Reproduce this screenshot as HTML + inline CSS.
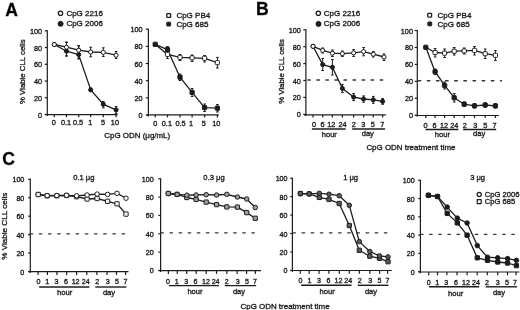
<!DOCTYPE html>
<html><head><meta charset="utf-8"><title>Figure</title>
<style>
html,body{margin:0;padding:0;background:#fff;}
body{width:520px;height:310px;overflow:hidden;}
svg{display:block;font-family:"Liberation Sans", sans-serif;filter:grayscale(1) blur(0.3px);}
text{stroke:#1c1c1c;stroke-width:0.34px;}
</style></head><body>
<svg width="520" height="310" viewBox="0 0 520 310">
<rect width="520" height="310" fill="#fff"/>
<text x="5.30" y="15.80" font-size="17.6" text-anchor="start" font-weight="bold" fill="#000" >A</text>
<text x="255.90" y="14.70" font-size="17.6" text-anchor="start" font-weight="bold" fill="#000" >B</text>
<text x="2.20" y="165.20" font-size="17.6" text-anchor="start" font-weight="bold" fill="#000" >C</text>
<line x1="47.30" y1="30.30" x2="47.30" y2="116.10" stroke="#1c1c1c" stroke-width="1.2" />
<line x1="44.70" y1="30.80" x2="47.30" y2="30.80" stroke="#1c1c1c" stroke-width="1.2" />
<text x="42.10" y="33.80" font-size="7.3" text-anchor="end" font-weight="normal" fill="#1c1c1c" >100</text>
<line x1="44.70" y1="47.54" x2="47.30" y2="47.54" stroke="#1c1c1c" stroke-width="1.2" />
<text x="42.10" y="50.54" font-size="7.3" text-anchor="end" font-weight="normal" fill="#1c1c1c" >80</text>
<line x1="44.70" y1="64.28" x2="47.30" y2="64.28" stroke="#1c1c1c" stroke-width="1.2" />
<text x="42.10" y="67.28" font-size="7.3" text-anchor="end" font-weight="normal" fill="#1c1c1c" >60</text>
<line x1="44.70" y1="81.02" x2="47.30" y2="81.02" stroke="#1c1c1c" stroke-width="1.2" />
<text x="42.10" y="84.02" font-size="7.3" text-anchor="end" font-weight="normal" fill="#1c1c1c" >40</text>
<line x1="44.70" y1="97.76" x2="47.30" y2="97.76" stroke="#1c1c1c" stroke-width="1.2" />
<text x="42.10" y="100.76" font-size="7.3" text-anchor="end" font-weight="normal" fill="#1c1c1c" >20</text>
<line x1="44.70" y1="114.50" x2="47.30" y2="114.50" stroke="#1c1c1c" stroke-width="1.2" />
<text x="42.10" y="117.50" font-size="7.3" text-anchor="end" font-weight="normal" fill="#1c1c1c" >0</text>
<line x1="45.30" y1="114.60" x2="117.60" y2="114.60" stroke="#1c1c1c" stroke-width="1.2" />
<line x1="54.30" y1="114.60" x2="54.30" y2="117.20" stroke="#1c1c1c" stroke-width="1.2" />
<line x1="66.50" y1="114.60" x2="66.50" y2="117.20" stroke="#1c1c1c" stroke-width="1.2" />
<line x1="78.70" y1="114.60" x2="78.70" y2="117.20" stroke="#1c1c1c" stroke-width="1.2" />
<line x1="90.70" y1="114.60" x2="90.70" y2="117.20" stroke="#1c1c1c" stroke-width="1.2" />
<line x1="103.30" y1="114.60" x2="103.30" y2="117.20" stroke="#1c1c1c" stroke-width="1.2" />
<line x1="116.10" y1="114.60" x2="116.10" y2="117.20" stroke="#1c1c1c" stroke-width="1.2" />
<text x="53.80" y="125.30" font-size="7.3" text-anchor="middle" font-weight="normal" fill="#1c1c1c" >0</text>
<text x="66.00" y="125.30" font-size="7.3" text-anchor="middle" font-weight="normal" fill="#1c1c1c" >0.1</text>
<text x="78.10" y="125.30" font-size="7.3" text-anchor="middle" font-weight="normal" fill="#1c1c1c" >0.5</text>
<text x="90.20" y="125.30" font-size="7.3" text-anchor="middle" font-weight="normal" fill="#1c1c1c" >1</text>
<text x="103.10" y="125.30" font-size="7.3" text-anchor="middle" font-weight="normal" fill="#1c1c1c" >5</text>
<text x="114.90" y="125.30" font-size="7.3" text-anchor="middle" font-weight="normal" fill="#1c1c1c" >10</text>
<text x="0" y="0" font-size="7.8" text-anchor="middle" fill="#1c1c1c" transform="translate(25.00,71.70) rotate(-90)">% Viable CLL cells</text>
<line x1="66.50" y1="42.20" x2="66.50" y2="56.00" stroke="#1c1c1c" stroke-width="1.0" />
<line x1="65.20" y1="42.20" x2="67.80" y2="42.20" stroke="#1c1c1c" stroke-width="1.0" />
<line x1="65.20" y1="56.00" x2="67.80" y2="56.00" stroke="#1c1c1c" stroke-width="1.0" />
<line x1="78.70" y1="45.70" x2="78.70" y2="58.80" stroke="#1c1c1c" stroke-width="1.0" />
<line x1="77.40" y1="45.70" x2="80.00" y2="45.70" stroke="#1c1c1c" stroke-width="1.0" />
<line x1="77.40" y1="58.80" x2="80.00" y2="58.80" stroke="#1c1c1c" stroke-width="1.0" />
<line x1="90.70" y1="47.20" x2="90.70" y2="56.80" stroke="#1c1c1c" stroke-width="1.0" />
<line x1="89.40" y1="47.20" x2="92.00" y2="47.20" stroke="#1c1c1c" stroke-width="1.0" />
<line x1="89.40" y1="56.80" x2="92.00" y2="56.80" stroke="#1c1c1c" stroke-width="1.0" />
<line x1="103.30" y1="47.80" x2="103.30" y2="56.50" stroke="#1c1c1c" stroke-width="1.0" />
<line x1="102.00" y1="47.80" x2="104.60" y2="47.80" stroke="#1c1c1c" stroke-width="1.0" />
<line x1="102.00" y1="56.50" x2="104.60" y2="56.50" stroke="#1c1c1c" stroke-width="1.0" />
<line x1="116.10" y1="51.50" x2="116.10" y2="58.50" stroke="#1c1c1c" stroke-width="1.0" />
<line x1="114.80" y1="51.50" x2="117.40" y2="51.50" stroke="#1c1c1c" stroke-width="1.0" />
<line x1="114.80" y1="58.50" x2="117.40" y2="58.50" stroke="#1c1c1c" stroke-width="1.0" />
<line x1="66.50" y1="42.20" x2="66.50" y2="56.00" stroke="#1c1c1c" stroke-width="1.0" />
<line x1="65.20" y1="42.20" x2="67.80" y2="42.20" stroke="#1c1c1c" stroke-width="1.0" />
<line x1="65.20" y1="56.00" x2="67.80" y2="56.00" stroke="#1c1c1c" stroke-width="1.0" />
<line x1="78.70" y1="45.70" x2="78.70" y2="58.80" stroke="#1c1c1c" stroke-width="1.0" />
<line x1="77.40" y1="45.70" x2="80.00" y2="45.70" stroke="#1c1c1c" stroke-width="1.0" />
<line x1="77.40" y1="58.80" x2="80.00" y2="58.80" stroke="#1c1c1c" stroke-width="1.0" />
<line x1="90.70" y1="88.00" x2="90.70" y2="91.50" stroke="#1c1c1c" stroke-width="1.0" />
<line x1="89.40" y1="88.00" x2="92.00" y2="88.00" stroke="#1c1c1c" stroke-width="1.0" />
<line x1="89.40" y1="91.50" x2="92.00" y2="91.50" stroke="#1c1c1c" stroke-width="1.0" />
<line x1="103.30" y1="101.50" x2="103.30" y2="107.80" stroke="#1c1c1c" stroke-width="1.0" />
<line x1="102.00" y1="101.50" x2="104.60" y2="101.50" stroke="#1c1c1c" stroke-width="1.0" />
<line x1="102.00" y1="107.80" x2="104.60" y2="107.80" stroke="#1c1c1c" stroke-width="1.0" />
<line x1="116.10" y1="106.50" x2="116.10" y2="113.60" stroke="#1c1c1c" stroke-width="1.0" />
<line x1="114.80" y1="106.50" x2="117.40" y2="106.50" stroke="#1c1c1c" stroke-width="1.0" />
<line x1="114.80" y1="113.60" x2="117.40" y2="113.60" stroke="#1c1c1c" stroke-width="1.0" />
<polyline points="54.30,44.50 66.50,51.20 78.70,54.60 90.70,89.90 103.30,104.30 116.10,109.90" fill="none" stroke="#1c1c1c" stroke-width="1.3" stroke-linejoin="round"/>
<polyline points="54.30,44.50 66.50,47.20 78.70,50.20 90.70,52.00 103.30,52.40 116.10,55.20" fill="none" stroke="#1c1c1c" stroke-width="1.3" stroke-linejoin="round"/>
<circle cx="54.30" cy="44.50" r="2.05" fill="#1c1c1c" stroke="#1c1c1c" stroke-width="1.0"/>
<circle cx="66.50" cy="51.20" r="2.05" fill="#1c1c1c" stroke="#1c1c1c" stroke-width="1.0"/>
<circle cx="78.70" cy="54.60" r="2.05" fill="#1c1c1c" stroke="#1c1c1c" stroke-width="1.0"/>
<circle cx="90.70" cy="89.90" r="2.05" fill="#1c1c1c" stroke="#1c1c1c" stroke-width="1.0"/>
<circle cx="103.30" cy="104.30" r="2.05" fill="#1c1c1c" stroke="#1c1c1c" stroke-width="1.0"/>
<circle cx="116.10" cy="109.90" r="2.05" fill="#1c1c1c" stroke="#1c1c1c" stroke-width="1.0"/>
<circle cx="54.30" cy="44.50" r="2.05" fill="#fff" stroke="#1c1c1c" stroke-width="1.0"/>
<circle cx="66.50" cy="47.20" r="2.05" fill="#fff" stroke="#1c1c1c" stroke-width="1.0"/>
<circle cx="78.70" cy="50.20" r="2.05" fill="#fff" stroke="#1c1c1c" stroke-width="1.0"/>
<circle cx="90.70" cy="52.00" r="2.05" fill="#fff" stroke="#1c1c1c" stroke-width="1.0"/>
<circle cx="103.30" cy="52.40" r="2.05" fill="#fff" stroke="#1c1c1c" stroke-width="1.0"/>
<circle cx="116.10" cy="55.20" r="2.05" fill="#fff" stroke="#1c1c1c" stroke-width="1.0"/>
<circle cx="60.50" cy="13.20" r="2.2" fill="#fff" stroke="#1c1c1c" stroke-width="1.25"/>
<text x="66.40" y="15.90" font-size="8.0" text-anchor="start" font-weight="normal" fill="#1c1c1c" >CpG 2216</text>
<circle cx="60.60" cy="23.80" r="2.5" fill="#1c1c1c" stroke="#1c1c1c" stroke-width="1.0"/>
<text x="66.40" y="26.30" font-size="8.0" text-anchor="start" font-weight="normal" fill="#1c1c1c" >CpG 2006</text>
<text x="104.30" y="138.20" font-size="7.95" text-anchor="start" font-weight="normal" fill="#1c1c1c" >CpG ODN (&#956;g/mL)</text>
<line x1="148.40" y1="28.70" x2="148.40" y2="116.60" stroke="#1c1c1c" stroke-width="1.2" />
<line x1="145.80" y1="29.20" x2="148.40" y2="29.20" stroke="#1c1c1c" stroke-width="1.2" />
<text x="142.60" y="32.20" font-size="7.3" text-anchor="end" font-weight="normal" fill="#1c1c1c" >100</text>
<line x1="145.80" y1="46.36" x2="148.40" y2="46.36" stroke="#1c1c1c" stroke-width="1.2" />
<text x="142.60" y="49.36" font-size="7.3" text-anchor="end" font-weight="normal" fill="#1c1c1c" >80</text>
<line x1="145.80" y1="63.52" x2="148.40" y2="63.52" stroke="#1c1c1c" stroke-width="1.2" />
<text x="142.60" y="66.52" font-size="7.3" text-anchor="end" font-weight="normal" fill="#1c1c1c" >60</text>
<line x1="145.80" y1="80.68" x2="148.40" y2="80.68" stroke="#1c1c1c" stroke-width="1.2" />
<text x="142.60" y="83.68" font-size="7.3" text-anchor="end" font-weight="normal" fill="#1c1c1c" >40</text>
<line x1="145.80" y1="97.84" x2="148.40" y2="97.84" stroke="#1c1c1c" stroke-width="1.2" />
<text x="142.60" y="100.84" font-size="7.3" text-anchor="end" font-weight="normal" fill="#1c1c1c" >20</text>
<line x1="145.80" y1="115.00" x2="148.40" y2="115.00" stroke="#1c1c1c" stroke-width="1.2" />
<text x="142.60" y="118.00" font-size="7.3" text-anchor="end" font-weight="normal" fill="#1c1c1c" >0</text>
<line x1="146.40" y1="114.80" x2="218.80" y2="114.80" stroke="#1c1c1c" stroke-width="1.2" />
<line x1="155.20" y1="114.80" x2="155.20" y2="117.40" stroke="#1c1c1c" stroke-width="1.2" />
<line x1="167.50" y1="114.80" x2="167.50" y2="117.40" stroke="#1c1c1c" stroke-width="1.2" />
<line x1="180.00" y1="114.80" x2="180.00" y2="117.40" stroke="#1c1c1c" stroke-width="1.2" />
<line x1="192.10" y1="114.80" x2="192.10" y2="117.40" stroke="#1c1c1c" stroke-width="1.2" />
<line x1="204.60" y1="114.80" x2="204.60" y2="117.40" stroke="#1c1c1c" stroke-width="1.2" />
<line x1="217.40" y1="114.80" x2="217.40" y2="117.40" stroke="#1c1c1c" stroke-width="1.2" />
<text x="155.20" y="126.40" font-size="7.3" text-anchor="middle" font-weight="normal" fill="#1c1c1c" >0</text>
<text x="166.90" y="126.40" font-size="7.3" text-anchor="middle" font-weight="normal" fill="#1c1c1c" >0.1</text>
<text x="180.50" y="126.40" font-size="7.3" text-anchor="middle" font-weight="normal" fill="#1c1c1c" >0.5</text>
<text x="191.10" y="126.40" font-size="7.3" text-anchor="middle" font-weight="normal" fill="#1c1c1c" >1</text>
<text x="203.80" y="126.40" font-size="7.3" text-anchor="middle" font-weight="normal" fill="#1c1c1c" >5</text>
<text x="216.20" y="126.40" font-size="7.3" text-anchor="middle" font-weight="normal" fill="#1c1c1c" >10</text>
<line x1="167.50" y1="50.50" x2="167.50" y2="58.50" stroke="#1c1c1c" stroke-width="1.0" />
<line x1="166.20" y1="50.50" x2="168.80" y2="50.50" stroke="#1c1c1c" stroke-width="1.0" />
<line x1="166.20" y1="58.50" x2="168.80" y2="58.50" stroke="#1c1c1c" stroke-width="1.0" />
<line x1="180.00" y1="54.50" x2="180.00" y2="60.50" stroke="#1c1c1c" stroke-width="1.0" />
<line x1="178.70" y1="54.50" x2="181.30" y2="54.50" stroke="#1c1c1c" stroke-width="1.0" />
<line x1="178.70" y1="60.50" x2="181.30" y2="60.50" stroke="#1c1c1c" stroke-width="1.0" />
<line x1="192.10" y1="55.00" x2="192.10" y2="61.50" stroke="#1c1c1c" stroke-width="1.0" />
<line x1="190.80" y1="55.00" x2="193.40" y2="55.00" stroke="#1c1c1c" stroke-width="1.0" />
<line x1="190.80" y1="61.50" x2="193.40" y2="61.50" stroke="#1c1c1c" stroke-width="1.0" />
<line x1="204.60" y1="55.50" x2="204.60" y2="62.00" stroke="#1c1c1c" stroke-width="1.0" />
<line x1="203.30" y1="55.50" x2="205.90" y2="55.50" stroke="#1c1c1c" stroke-width="1.0" />
<line x1="203.30" y1="62.00" x2="205.90" y2="62.00" stroke="#1c1c1c" stroke-width="1.0" />
<line x1="217.40" y1="57.40" x2="217.40" y2="68.00" stroke="#1c1c1c" stroke-width="1.0" />
<line x1="216.10" y1="57.40" x2="218.70" y2="57.40" stroke="#1c1c1c" stroke-width="1.0" />
<line x1="216.10" y1="68.00" x2="218.70" y2="68.00" stroke="#1c1c1c" stroke-width="1.0" />
<line x1="167.50" y1="46.50" x2="167.50" y2="53.00" stroke="#1c1c1c" stroke-width="1.0" />
<line x1="166.20" y1="46.50" x2="168.80" y2="46.50" stroke="#1c1c1c" stroke-width="1.0" />
<line x1="166.20" y1="53.00" x2="168.80" y2="53.00" stroke="#1c1c1c" stroke-width="1.0" />
<line x1="180.00" y1="74.00" x2="180.00" y2="80.50" stroke="#1c1c1c" stroke-width="1.0" />
<line x1="178.70" y1="74.00" x2="181.30" y2="74.00" stroke="#1c1c1c" stroke-width="1.0" />
<line x1="178.70" y1="80.50" x2="181.30" y2="80.50" stroke="#1c1c1c" stroke-width="1.0" />
<line x1="192.10" y1="88.50" x2="192.10" y2="96.50" stroke="#1c1c1c" stroke-width="1.0" />
<line x1="190.80" y1="88.50" x2="193.40" y2="88.50" stroke="#1c1c1c" stroke-width="1.0" />
<line x1="190.80" y1="96.50" x2="193.40" y2="96.50" stroke="#1c1c1c" stroke-width="1.0" />
<line x1="204.60" y1="104.00" x2="204.60" y2="111.50" stroke="#1c1c1c" stroke-width="1.0" />
<line x1="203.30" y1="104.00" x2="205.90" y2="104.00" stroke="#1c1c1c" stroke-width="1.0" />
<line x1="203.30" y1="111.50" x2="205.90" y2="111.50" stroke="#1c1c1c" stroke-width="1.0" />
<line x1="217.40" y1="104.50" x2="217.40" y2="112.00" stroke="#1c1c1c" stroke-width="1.0" />
<line x1="216.10" y1="104.50" x2="218.70" y2="104.50" stroke="#1c1c1c" stroke-width="1.0" />
<line x1="216.10" y1="112.00" x2="218.70" y2="112.00" stroke="#1c1c1c" stroke-width="1.0" />
<polyline points="155.20,44.30 167.50,49.60 180.00,77.20 192.10,92.40 204.60,107.60 217.40,108.20" fill="none" stroke="#1c1c1c" stroke-width="1.3" stroke-linejoin="round"/>
<polyline points="155.20,44.30 167.50,54.40 180.00,57.30 192.10,57.80 204.60,58.30 217.40,62.60" fill="none" stroke="#1c1c1c" stroke-width="1.3" stroke-linejoin="round"/>
<rect x="153.10" y="42.20" width="4.2" height="4.2" rx="0.5" fill="#1c1c1c" stroke="#1c1c1c" stroke-width="1.0"/>
<rect x="165.40" y="47.50" width="4.2" height="4.2" rx="0.5" fill="#1c1c1c" stroke="#1c1c1c" stroke-width="1.0"/>
<rect x="177.90" y="75.10" width="4.2" height="4.2" rx="0.5" fill="#1c1c1c" stroke="#1c1c1c" stroke-width="1.0"/>
<rect x="190.00" y="90.30" width="4.2" height="4.2" rx="0.5" fill="#1c1c1c" stroke="#1c1c1c" stroke-width="1.0"/>
<rect x="202.50" y="105.50" width="4.2" height="4.2" rx="0.5" fill="#1c1c1c" stroke="#1c1c1c" stroke-width="1.0"/>
<rect x="215.30" y="106.10" width="4.2" height="4.2" rx="0.5" fill="#1c1c1c" stroke="#1c1c1c" stroke-width="1.0"/>
<rect x="165.40" y="52.30" width="4.2" height="4.2" rx="1.0" fill="#fff" stroke="#1c1c1c" stroke-width="1.0"/>
<rect x="177.90" y="55.20" width="4.2" height="4.2" rx="1.0" fill="#fff" stroke="#1c1c1c" stroke-width="1.0"/>
<rect x="190.00" y="55.70" width="4.2" height="4.2" rx="1.0" fill="#fff" stroke="#1c1c1c" stroke-width="1.0"/>
<rect x="202.50" y="56.20" width="4.2" height="4.2" rx="1.0" fill="#fff" stroke="#1c1c1c" stroke-width="1.0"/>
<rect x="215.30" y="60.50" width="4.2" height="4.2" rx="1.0" fill="#fff" stroke="#1c1c1c" stroke-width="1.0"/>
<rect x="166.80" y="13.60" width="3.8" height="3.8" rx="0.5" fill="#fff" stroke="#1c1c1c" stroke-width="1.3"/>
<text x="176.40" y="18.10" font-size="8.0" text-anchor="start" font-weight="normal" fill="#1c1c1c" >CpG PB4</text>
<rect x="166.80" y="22.20" width="3.8" height="3.8" rx="0.5" fill="#1c1c1c" stroke="#1c1c1c" stroke-width="1.0"/>
<text x="176.40" y="27.00" font-size="8.0" text-anchor="start" font-weight="normal" fill="#1c1c1c" >CpG 685</text>
<line x1="305.90" y1="29.30" x2="305.90" y2="115.90" stroke="#1c1c1c" stroke-width="1.2" />
<line x1="303.30" y1="29.80" x2="305.90" y2="29.80" stroke="#1c1c1c" stroke-width="1.2" />
<text x="300.90" y="32.80" font-size="7.3" text-anchor="end" font-weight="normal" fill="#1c1c1c" >100</text>
<line x1="303.30" y1="46.70" x2="305.90" y2="46.70" stroke="#1c1c1c" stroke-width="1.2" />
<text x="300.90" y="49.70" font-size="7.3" text-anchor="end" font-weight="normal" fill="#1c1c1c" >80</text>
<line x1="303.30" y1="63.60" x2="305.90" y2="63.60" stroke="#1c1c1c" stroke-width="1.2" />
<text x="300.90" y="66.60" font-size="7.3" text-anchor="end" font-weight="normal" fill="#1c1c1c" >60</text>
<line x1="303.30" y1="80.50" x2="305.90" y2="80.50" stroke="#1c1c1c" stroke-width="1.2" />
<text x="300.90" y="83.50" font-size="7.3" text-anchor="end" font-weight="normal" fill="#1c1c1c" >40</text>
<line x1="303.30" y1="97.40" x2="305.90" y2="97.40" stroke="#1c1c1c" stroke-width="1.2" />
<text x="300.90" y="100.40" font-size="7.3" text-anchor="end" font-weight="normal" fill="#1c1c1c" >20</text>
<line x1="303.30" y1="114.30" x2="305.90" y2="114.30" stroke="#1c1c1c" stroke-width="1.2" />
<text x="300.90" y="117.30" font-size="7.3" text-anchor="end" font-weight="normal" fill="#1c1c1c" >0</text>
<line x1="303.90" y1="114.90" x2="385.80" y2="114.90" stroke="#1c1c1c" stroke-width="1.2" />
<line x1="313.00" y1="114.90" x2="313.00" y2="117.50" stroke="#1c1c1c" stroke-width="1.2" />
<line x1="322.70" y1="114.90" x2="322.70" y2="117.50" stroke="#1c1c1c" stroke-width="1.2" />
<line x1="332.40" y1="114.90" x2="332.40" y2="117.50" stroke="#1c1c1c" stroke-width="1.2" />
<line x1="342.40" y1="114.90" x2="342.40" y2="117.50" stroke="#1c1c1c" stroke-width="1.2" />
<line x1="353.60" y1="114.90" x2="353.60" y2="117.50" stroke="#1c1c1c" stroke-width="1.2" />
<line x1="363.60" y1="114.90" x2="363.60" y2="117.50" stroke="#1c1c1c" stroke-width="1.2" />
<line x1="373.30" y1="114.90" x2="373.30" y2="117.50" stroke="#1c1c1c" stroke-width="1.2" />
<line x1="382.60" y1="114.90" x2="382.60" y2="117.50" stroke="#1c1c1c" stroke-width="1.2" />
<text x="314.10" y="127.00" font-size="7.3" text-anchor="middle" font-weight="normal" fill="#1c1c1c" >0</text>
<text x="322.60" y="127.00" font-size="7.3" text-anchor="middle" font-weight="normal" fill="#1c1c1c" >6</text>
<text x="331.20" y="127.00" font-size="7.3" text-anchor="middle" font-weight="normal" fill="#1c1c1c" >12</text>
<text x="342.50" y="127.00" font-size="7.3" text-anchor="middle" font-weight="normal" fill="#1c1c1c" >24</text>
<text x="353.90" y="127.00" font-size="7.3" text-anchor="middle" font-weight="normal" fill="#1c1c1c" >2</text>
<text x="363.40" y="127.00" font-size="7.3" text-anchor="middle" font-weight="normal" fill="#1c1c1c" >3</text>
<text x="372.90" y="127.00" font-size="7.3" text-anchor="middle" font-weight="normal" fill="#1c1c1c" >5</text>
<text x="382.30" y="127.00" font-size="7.3" text-anchor="middle" font-weight="normal" fill="#1c1c1c" >7</text>
<line x1="311.90" y1="128.90" x2="345.70" y2="128.90" stroke="#1c1c1c" stroke-width="1.5" />
<line x1="352.20" y1="128.90" x2="385.10" y2="128.90" stroke="#1c1c1c" stroke-width="1.5" />
<text x="329.30" y="137.00" font-size="7.6" text-anchor="middle" font-weight="normal" fill="#1c1c1c" >hour</text>
<text x="367.80" y="136.10" font-size="7.6" text-anchor="middle" font-weight="normal" fill="#1c1c1c" >day</text>
<text x="0" y="0" font-size="7.8" text-anchor="middle" fill="#1c1c1c" transform="translate(283.80,71.50) rotate(-90)">% Viable CLL cells</text>
<line x1="307.81" y1="80.00" x2="384.00" y2="80.00" stroke="#333" stroke-width="1.35" stroke-dasharray="2.49 6.56" stroke-linecap="round"/>
<line x1="322.70" y1="48.00" x2="322.70" y2="53.00" stroke="#1c1c1c" stroke-width="1.0" />
<line x1="321.40" y1="48.00" x2="324.00" y2="48.00" stroke="#1c1c1c" stroke-width="1.0" />
<line x1="321.40" y1="53.00" x2="324.00" y2="53.00" stroke="#1c1c1c" stroke-width="1.0" />
<line x1="332.40" y1="50.00" x2="332.40" y2="56.50" stroke="#1c1c1c" stroke-width="1.0" />
<line x1="331.10" y1="50.00" x2="333.70" y2="50.00" stroke="#1c1c1c" stroke-width="1.0" />
<line x1="331.10" y1="56.50" x2="333.70" y2="56.50" stroke="#1c1c1c" stroke-width="1.0" />
<line x1="342.40" y1="51.00" x2="342.40" y2="56.50" stroke="#1c1c1c" stroke-width="1.0" />
<line x1="341.10" y1="51.00" x2="343.70" y2="51.00" stroke="#1c1c1c" stroke-width="1.0" />
<line x1="341.10" y1="56.50" x2="343.70" y2="56.50" stroke="#1c1c1c" stroke-width="1.0" />
<line x1="353.60" y1="49.50" x2="353.60" y2="56.50" stroke="#1c1c1c" stroke-width="1.0" />
<line x1="352.30" y1="49.50" x2="354.90" y2="49.50" stroke="#1c1c1c" stroke-width="1.0" />
<line x1="352.30" y1="56.50" x2="354.90" y2="56.50" stroke="#1c1c1c" stroke-width="1.0" />
<line x1="363.60" y1="47.50" x2="363.60" y2="55.80" stroke="#1c1c1c" stroke-width="1.0" />
<line x1="362.30" y1="47.50" x2="364.90" y2="47.50" stroke="#1c1c1c" stroke-width="1.0" />
<line x1="362.30" y1="55.80" x2="364.90" y2="55.80" stroke="#1c1c1c" stroke-width="1.0" />
<line x1="373.30" y1="51.50" x2="373.30" y2="57.00" stroke="#1c1c1c" stroke-width="1.0" />
<line x1="372.00" y1="51.50" x2="374.60" y2="51.50" stroke="#1c1c1c" stroke-width="1.0" />
<line x1="372.00" y1="57.00" x2="374.60" y2="57.00" stroke="#1c1c1c" stroke-width="1.0" />
<line x1="384.00" y1="54.00" x2="384.00" y2="60.50" stroke="#1c1c1c" stroke-width="1.0" />
<line x1="382.70" y1="54.00" x2="385.30" y2="54.00" stroke="#1c1c1c" stroke-width="1.0" />
<line x1="382.70" y1="60.50" x2="385.30" y2="60.50" stroke="#1c1c1c" stroke-width="1.0" />
<line x1="322.70" y1="58.50" x2="322.70" y2="70.50" stroke="#1c1c1c" stroke-width="1.0" />
<line x1="321.40" y1="58.50" x2="324.00" y2="58.50" stroke="#1c1c1c" stroke-width="1.0" />
<line x1="321.40" y1="70.50" x2="324.00" y2="70.50" stroke="#1c1c1c" stroke-width="1.0" />
<line x1="332.40" y1="59.50" x2="332.40" y2="75.00" stroke="#1c1c1c" stroke-width="1.0" />
<line x1="331.10" y1="59.50" x2="333.70" y2="59.50" stroke="#1c1c1c" stroke-width="1.0" />
<line x1="331.10" y1="75.00" x2="333.70" y2="75.00" stroke="#1c1c1c" stroke-width="1.0" />
<line x1="342.40" y1="84.40" x2="342.40" y2="92.50" stroke="#1c1c1c" stroke-width="1.0" />
<line x1="341.10" y1="84.40" x2="343.70" y2="84.40" stroke="#1c1c1c" stroke-width="1.0" />
<line x1="341.10" y1="92.50" x2="343.70" y2="92.50" stroke="#1c1c1c" stroke-width="1.0" />
<line x1="353.60" y1="93.50" x2="353.60" y2="100.60" stroke="#1c1c1c" stroke-width="1.0" />
<line x1="352.30" y1="93.50" x2="354.90" y2="93.50" stroke="#1c1c1c" stroke-width="1.0" />
<line x1="352.30" y1="100.60" x2="354.90" y2="100.60" stroke="#1c1c1c" stroke-width="1.0" />
<line x1="363.60" y1="95.90" x2="363.60" y2="102.20" stroke="#1c1c1c" stroke-width="1.0" />
<line x1="362.30" y1="95.90" x2="364.90" y2="95.90" stroke="#1c1c1c" stroke-width="1.0" />
<line x1="362.30" y1="102.20" x2="364.90" y2="102.20" stroke="#1c1c1c" stroke-width="1.0" />
<line x1="373.30" y1="96.40" x2="373.30" y2="103.30" stroke="#1c1c1c" stroke-width="1.0" />
<line x1="372.00" y1="96.40" x2="374.60" y2="96.40" stroke="#1c1c1c" stroke-width="1.0" />
<line x1="372.00" y1="103.30" x2="374.60" y2="103.30" stroke="#1c1c1c" stroke-width="1.0" />
<line x1="382.60" y1="98.50" x2="382.60" y2="104.30" stroke="#1c1c1c" stroke-width="1.0" />
<line x1="381.30" y1="98.50" x2="383.90" y2="98.50" stroke="#1c1c1c" stroke-width="1.0" />
<line x1="381.30" y1="104.30" x2="383.90" y2="104.30" stroke="#1c1c1c" stroke-width="1.0" />
<polyline points="313.00,46.30 322.70,64.60 332.40,67.30 342.40,88.50 353.60,97.10 363.60,99.00 373.30,99.80 382.60,101.40" fill="none" stroke="#1c1c1c" stroke-width="1.3" stroke-linejoin="round"/>
<polyline points="313.00,46.30 322.70,50.40 332.40,53.20 342.40,53.70 353.60,52.90 363.60,51.60 373.30,54.20 384.00,57.00" fill="none" stroke="#1c1c1c" stroke-width="1.3" stroke-linejoin="round"/>
<circle cx="313.00" cy="46.30" r="2.05" fill="#1c1c1c" stroke="#1c1c1c" stroke-width="1.0"/>
<circle cx="322.70" cy="64.60" r="2.05" fill="#1c1c1c" stroke="#1c1c1c" stroke-width="1.0"/>
<circle cx="332.40" cy="67.30" r="2.05" fill="#1c1c1c" stroke="#1c1c1c" stroke-width="1.0"/>
<circle cx="342.40" cy="88.50" r="2.05" fill="#1c1c1c" stroke="#1c1c1c" stroke-width="1.0"/>
<circle cx="353.60" cy="97.10" r="2.05" fill="#1c1c1c" stroke="#1c1c1c" stroke-width="1.0"/>
<circle cx="363.60" cy="99.00" r="2.05" fill="#1c1c1c" stroke="#1c1c1c" stroke-width="1.0"/>
<circle cx="373.30" cy="99.80" r="2.05" fill="#1c1c1c" stroke="#1c1c1c" stroke-width="1.0"/>
<circle cx="382.60" cy="101.40" r="2.05" fill="#1c1c1c" stroke="#1c1c1c" stroke-width="1.0"/>
<circle cx="313.00" cy="46.30" r="2.05" fill="#fff" stroke="#1c1c1c" stroke-width="1.0"/>
<circle cx="322.70" cy="50.40" r="2.05" fill="#fff" stroke="#1c1c1c" stroke-width="1.0"/>
<circle cx="332.40" cy="53.20" r="2.05" fill="#fff" stroke="#1c1c1c" stroke-width="1.0"/>
<circle cx="342.40" cy="53.70" r="2.05" fill="#fff" stroke="#1c1c1c" stroke-width="1.0"/>
<circle cx="353.60" cy="52.90" r="2.05" fill="#fff" stroke="#1c1c1c" stroke-width="1.0"/>
<circle cx="363.60" cy="51.60" r="2.05" fill="#fff" stroke="#1c1c1c" stroke-width="1.0"/>
<circle cx="373.30" cy="54.20" r="2.05" fill="#fff" stroke="#1c1c1c" stroke-width="1.0"/>
<circle cx="384.00" cy="57.00" r="2.05" fill="#fff" stroke="#1c1c1c" stroke-width="1.0"/>
<circle cx="318.30" cy="13.20" r="2.2" fill="#fff" stroke="#1c1c1c" stroke-width="1.25"/>
<text x="323.80" y="15.90" font-size="8.0" text-anchor="start" font-weight="normal" fill="#1c1c1c" >CpG 2216</text>
<circle cx="318.50" cy="23.90" r="2.5" fill="#1c1c1c" stroke="#1c1c1c" stroke-width="1.0"/>
<text x="323.80" y="26.30" font-size="8.0" text-anchor="start" font-weight="normal" fill="#1c1c1c" >CpG 2006</text>
<text x="366.40" y="150.10" font-size="7.95" text-anchor="start" font-weight="normal" fill="#1c1c1c" >CpG ODN treatment time</text>
<line x1="417.30" y1="30.00" x2="417.30" y2="116.80" stroke="#1c1c1c" stroke-width="1.2" />
<line x1="414.70" y1="30.50" x2="417.30" y2="30.50" stroke="#1c1c1c" stroke-width="1.2" />
<text x="413.00" y="33.50" font-size="7.3" text-anchor="end" font-weight="normal" fill="#1c1c1c" >100</text>
<line x1="414.70" y1="47.44" x2="417.30" y2="47.44" stroke="#1c1c1c" stroke-width="1.2" />
<text x="413.00" y="50.44" font-size="7.3" text-anchor="end" font-weight="normal" fill="#1c1c1c" >80</text>
<line x1="414.70" y1="64.38" x2="417.30" y2="64.38" stroke="#1c1c1c" stroke-width="1.2" />
<text x="413.00" y="67.38" font-size="7.3" text-anchor="end" font-weight="normal" fill="#1c1c1c" >60</text>
<line x1="414.70" y1="81.32" x2="417.30" y2="81.32" stroke="#1c1c1c" stroke-width="1.2" />
<text x="413.00" y="84.32" font-size="7.3" text-anchor="end" font-weight="normal" fill="#1c1c1c" >40</text>
<line x1="414.70" y1="98.26" x2="417.30" y2="98.26" stroke="#1c1c1c" stroke-width="1.2" />
<text x="413.00" y="101.26" font-size="7.3" text-anchor="end" font-weight="normal" fill="#1c1c1c" >20</text>
<line x1="414.70" y1="115.20" x2="417.30" y2="115.20" stroke="#1c1c1c" stroke-width="1.2" />
<text x="413.00" y="118.20" font-size="7.3" text-anchor="end" font-weight="normal" fill="#1c1c1c" >0</text>
<line x1="415.30" y1="115.50" x2="499.00" y2="115.50" stroke="#1c1c1c" stroke-width="1.2" />
<line x1="425.80" y1="115.50" x2="425.80" y2="118.10" stroke="#1c1c1c" stroke-width="1.2" />
<line x1="435.10" y1="115.50" x2="435.10" y2="118.10" stroke="#1c1c1c" stroke-width="1.2" />
<line x1="444.60" y1="115.50" x2="444.60" y2="118.10" stroke="#1c1c1c" stroke-width="1.2" />
<line x1="454.20" y1="115.50" x2="454.20" y2="118.10" stroke="#1c1c1c" stroke-width="1.2" />
<line x1="464.20" y1="115.50" x2="464.20" y2="118.10" stroke="#1c1c1c" stroke-width="1.2" />
<line x1="474.50" y1="115.50" x2="474.50" y2="118.10" stroke="#1c1c1c" stroke-width="1.2" />
<line x1="485.20" y1="115.50" x2="485.20" y2="118.10" stroke="#1c1c1c" stroke-width="1.2" />
<line x1="495.40" y1="115.50" x2="495.40" y2="118.10" stroke="#1c1c1c" stroke-width="1.2" />
<text x="425.50" y="127.90" font-size="7.3" text-anchor="middle" font-weight="normal" fill="#1c1c1c" >0</text>
<text x="434.60" y="127.90" font-size="7.3" text-anchor="middle" font-weight="normal" fill="#1c1c1c" >6</text>
<text x="444.10" y="127.90" font-size="7.3" text-anchor="middle" font-weight="normal" fill="#1c1c1c" >12</text>
<text x="454.30" y="127.90" font-size="7.3" text-anchor="middle" font-weight="normal" fill="#1c1c1c" >24</text>
<text x="464.80" y="127.90" font-size="7.3" text-anchor="middle" font-weight="normal" fill="#1c1c1c" >2</text>
<text x="475.20" y="127.90" font-size="7.3" text-anchor="middle" font-weight="normal" fill="#1c1c1c" >3</text>
<text x="485.20" y="127.90" font-size="7.3" text-anchor="middle" font-weight="normal" fill="#1c1c1c" >5</text>
<text x="494.60" y="127.90" font-size="7.3" text-anchor="middle" font-weight="normal" fill="#1c1c1c" >7</text>
<line x1="425.50" y1="129.60" x2="458.30" y2="129.60" stroke="#1c1c1c" stroke-width="1.5" />
<line x1="463.20" y1="129.60" x2="496.20" y2="129.60" stroke="#1c1c1c" stroke-width="1.5" />
<text x="442.40" y="137.20" font-size="7.6" text-anchor="middle" font-weight="normal" fill="#1c1c1c" >hour</text>
<text x="479.10" y="136.00" font-size="7.6" text-anchor="middle" font-weight="normal" fill="#1c1c1c" >day</text>
<line x1="418.11" y1="80.70" x2="501.50" y2="80.70" stroke="#333" stroke-width="1.35" stroke-dasharray="2.59 6.56" stroke-linecap="round"/>
<line x1="435.10" y1="48.50" x2="435.10" y2="57.00" stroke="#1c1c1c" stroke-width="1.0" />
<line x1="433.80" y1="48.50" x2="436.40" y2="48.50" stroke="#1c1c1c" stroke-width="1.0" />
<line x1="433.80" y1="57.00" x2="436.40" y2="57.00" stroke="#1c1c1c" stroke-width="1.0" />
<line x1="444.60" y1="49.00" x2="444.60" y2="57.50" stroke="#1c1c1c" stroke-width="1.0" />
<line x1="443.30" y1="49.00" x2="445.90" y2="49.00" stroke="#1c1c1c" stroke-width="1.0" />
<line x1="443.30" y1="57.50" x2="445.90" y2="57.50" stroke="#1c1c1c" stroke-width="1.0" />
<line x1="454.20" y1="47.50" x2="454.20" y2="55.00" stroke="#1c1c1c" stroke-width="1.0" />
<line x1="452.90" y1="47.50" x2="455.50" y2="47.50" stroke="#1c1c1c" stroke-width="1.0" />
<line x1="452.90" y1="55.00" x2="455.50" y2="55.00" stroke="#1c1c1c" stroke-width="1.0" />
<line x1="464.20" y1="48.00" x2="464.20" y2="54.00" stroke="#1c1c1c" stroke-width="1.0" />
<line x1="462.90" y1="48.00" x2="465.50" y2="48.00" stroke="#1c1c1c" stroke-width="1.0" />
<line x1="462.90" y1="54.00" x2="465.50" y2="54.00" stroke="#1c1c1c" stroke-width="1.0" />
<line x1="474.50" y1="46.50" x2="474.50" y2="55.00" stroke="#1c1c1c" stroke-width="1.0" />
<line x1="473.20" y1="46.50" x2="475.80" y2="46.50" stroke="#1c1c1c" stroke-width="1.0" />
<line x1="473.20" y1="55.00" x2="475.80" y2="55.00" stroke="#1c1c1c" stroke-width="1.0" />
<line x1="485.20" y1="49.00" x2="485.20" y2="58.50" stroke="#1c1c1c" stroke-width="1.0" />
<line x1="483.90" y1="49.00" x2="486.50" y2="49.00" stroke="#1c1c1c" stroke-width="1.0" />
<line x1="483.90" y1="58.50" x2="486.50" y2="58.50" stroke="#1c1c1c" stroke-width="1.0" />
<line x1="495.40" y1="50.50" x2="495.40" y2="60.50" stroke="#1c1c1c" stroke-width="1.0" />
<line x1="494.10" y1="50.50" x2="496.70" y2="50.50" stroke="#1c1c1c" stroke-width="1.0" />
<line x1="494.10" y1="60.50" x2="496.70" y2="60.50" stroke="#1c1c1c" stroke-width="1.0" />
<line x1="435.10" y1="69.00" x2="435.10" y2="74.50" stroke="#1c1c1c" stroke-width="1.0" />
<line x1="433.80" y1="69.00" x2="436.40" y2="69.00" stroke="#1c1c1c" stroke-width="1.0" />
<line x1="433.80" y1="74.50" x2="436.40" y2="74.50" stroke="#1c1c1c" stroke-width="1.0" />
<line x1="444.60" y1="82.00" x2="444.60" y2="89.00" stroke="#1c1c1c" stroke-width="1.0" />
<line x1="443.30" y1="82.00" x2="445.90" y2="82.00" stroke="#1c1c1c" stroke-width="1.0" />
<line x1="443.30" y1="89.00" x2="445.90" y2="89.00" stroke="#1c1c1c" stroke-width="1.0" />
<line x1="454.20" y1="93.50" x2="454.20" y2="102.00" stroke="#1c1c1c" stroke-width="1.0" />
<line x1="452.90" y1="93.50" x2="455.50" y2="93.50" stroke="#1c1c1c" stroke-width="1.0" />
<line x1="452.90" y1="102.00" x2="455.50" y2="102.00" stroke="#1c1c1c" stroke-width="1.0" />
<line x1="464.20" y1="102.00" x2="464.20" y2="106.50" stroke="#1c1c1c" stroke-width="1.0" />
<line x1="462.90" y1="102.00" x2="465.50" y2="102.00" stroke="#1c1c1c" stroke-width="1.0" />
<line x1="462.90" y1="106.50" x2="465.50" y2="106.50" stroke="#1c1c1c" stroke-width="1.0" />
<line x1="474.50" y1="103.50" x2="474.50" y2="108.00" stroke="#1c1c1c" stroke-width="1.0" />
<line x1="473.20" y1="103.50" x2="475.80" y2="103.50" stroke="#1c1c1c" stroke-width="1.0" />
<line x1="473.20" y1="108.00" x2="475.80" y2="108.00" stroke="#1c1c1c" stroke-width="1.0" />
<line x1="485.20" y1="103.00" x2="485.20" y2="107.00" stroke="#1c1c1c" stroke-width="1.0" />
<line x1="483.90" y1="103.00" x2="486.50" y2="103.00" stroke="#1c1c1c" stroke-width="1.0" />
<line x1="483.90" y1="107.00" x2="486.50" y2="107.00" stroke="#1c1c1c" stroke-width="1.0" />
<line x1="495.40" y1="103.50" x2="495.40" y2="108.00" stroke="#1c1c1c" stroke-width="1.0" />
<line x1="494.10" y1="103.50" x2="496.70" y2="103.50" stroke="#1c1c1c" stroke-width="1.0" />
<line x1="494.10" y1="108.00" x2="496.70" y2="108.00" stroke="#1c1c1c" stroke-width="1.0" />
<polyline points="425.80,47.30 435.10,71.70 444.60,85.40 454.20,97.70 464.20,104.20 474.50,105.80 485.20,105.00 495.40,105.80" fill="none" stroke="#1c1c1c" stroke-width="1.3" stroke-linejoin="round"/>
<polyline points="425.80,47.30 435.10,52.50 444.60,53.20 454.20,51.20 464.20,50.90 474.50,50.40 485.20,53.70 495.40,55.30" fill="none" stroke="#1c1c1c" stroke-width="1.3" stroke-linejoin="round"/>
<rect x="423.65" y="45.15" width="4.3" height="4.3" rx="0.9" fill="#1c1c1c" stroke="#1c1c1c" stroke-width="1.0"/>
<rect x="432.95" y="69.55" width="4.3" height="4.3" rx="0.9" fill="#1c1c1c" stroke="#1c1c1c" stroke-width="1.0"/>
<rect x="442.45" y="83.25" width="4.3" height="4.3" rx="0.9" fill="#1c1c1c" stroke="#1c1c1c" stroke-width="1.0"/>
<rect x="452.05" y="95.55" width="4.3" height="4.3" rx="0.9" fill="#1c1c1c" stroke="#1c1c1c" stroke-width="1.0"/>
<rect x="462.05" y="102.05" width="4.3" height="4.3" rx="0.9" fill="#1c1c1c" stroke="#1c1c1c" stroke-width="1.0"/>
<rect x="472.35" y="103.65" width="4.3" height="4.3" rx="0.9" fill="#1c1c1c" stroke="#1c1c1c" stroke-width="1.0"/>
<rect x="483.05" y="102.85" width="4.3" height="4.3" rx="0.9" fill="#1c1c1c" stroke="#1c1c1c" stroke-width="1.0"/>
<rect x="493.25" y="103.65" width="4.3" height="4.3" rx="0.9" fill="#1c1c1c" stroke="#1c1c1c" stroke-width="1.0"/>
<rect x="433.00" y="50.40" width="4.2" height="4.2" rx="1.0" fill="#fff" stroke="#1c1c1c" stroke-width="1.0"/>
<rect x="442.50" y="51.10" width="4.2" height="4.2" rx="1.0" fill="#fff" stroke="#1c1c1c" stroke-width="1.0"/>
<rect x="452.10" y="49.10" width="4.2" height="4.2" rx="1.0" fill="#fff" stroke="#1c1c1c" stroke-width="1.0"/>
<rect x="462.10" y="48.80" width="4.2" height="4.2" rx="1.0" fill="#fff" stroke="#1c1c1c" stroke-width="1.0"/>
<rect x="472.40" y="48.30" width="4.2" height="4.2" rx="1.0" fill="#fff" stroke="#1c1c1c" stroke-width="1.0"/>
<rect x="483.10" y="51.60" width="4.2" height="4.2" rx="1.0" fill="#fff" stroke="#1c1c1c" stroke-width="1.0"/>
<rect x="493.30" y="53.20" width="4.2" height="4.2" rx="1.0" fill="#fff" stroke="#1c1c1c" stroke-width="1.0"/>
<rect x="427.80" y="13.30" width="3.8" height="3.8" rx="0.5" fill="#fff" stroke="#1c1c1c" stroke-width="1.3"/>
<text x="437.60" y="18.10" font-size="8.0" text-anchor="start" font-weight="normal" fill="#1c1c1c" >CpG PB4</text>
<rect x="427.90" y="22.00" width="3.8" height="3.8" rx="0.5" fill="#1c1c1c" stroke="#1c1c1c" stroke-width="1.0"/>
<text x="437.60" y="27.00" font-size="8.0" text-anchor="start" font-weight="normal" fill="#1c1c1c" >CpG 685</text>
<line x1="30.30" y1="178.80" x2="30.30" y2="273.10" stroke="#1c1c1c" stroke-width="1.2" />
<line x1="28.10" y1="179.30" x2="30.30" y2="179.30" stroke="#1c1c1c" stroke-width="1.2" />
<text x="24.30" y="182.30" font-size="7.1" text-anchor="end" font-weight="normal" fill="#1c1c1c" >100</text>
<line x1="28.10" y1="197.74" x2="30.30" y2="197.74" stroke="#1c1c1c" stroke-width="1.2" />
<text x="24.30" y="200.74" font-size="7.1" text-anchor="end" font-weight="normal" fill="#1c1c1c" >80</text>
<line x1="28.10" y1="216.18" x2="30.30" y2="216.18" stroke="#1c1c1c" stroke-width="1.2" />
<text x="24.30" y="219.18" font-size="7.1" text-anchor="end" font-weight="normal" fill="#1c1c1c" >60</text>
<line x1="28.10" y1="234.62" x2="30.30" y2="234.62" stroke="#1c1c1c" stroke-width="1.2" />
<text x="24.30" y="237.62" font-size="7.1" text-anchor="end" font-weight="normal" fill="#1c1c1c" >40</text>
<line x1="28.10" y1="253.06" x2="30.30" y2="253.06" stroke="#1c1c1c" stroke-width="1.2" />
<text x="24.30" y="256.06" font-size="7.1" text-anchor="end" font-weight="normal" fill="#1c1c1c" >20</text>
<line x1="28.10" y1="271.50" x2="30.30" y2="271.50" stroke="#1c1c1c" stroke-width="1.2" />
<text x="24.30" y="274.50" font-size="7.1" text-anchor="end" font-weight="normal" fill="#1c1c1c" >0</text>
<line x1="28.30" y1="271.60" x2="128.50" y2="271.60" stroke="#1c1c1c" stroke-width="1.2" />
<line x1="38.10" y1="271.60" x2="38.10" y2="274.90" stroke="#1c1c1c" stroke-width="1.2" />
<line x1="47.40" y1="271.60" x2="47.40" y2="274.90" stroke="#1c1c1c" stroke-width="1.2" />
<line x1="56.90" y1="271.60" x2="56.90" y2="274.90" stroke="#1c1c1c" stroke-width="1.2" />
<line x1="66.70" y1="271.60" x2="66.70" y2="274.90" stroke="#1c1c1c" stroke-width="1.2" />
<line x1="76.60" y1="271.60" x2="76.60" y2="274.90" stroke="#1c1c1c" stroke-width="1.2" />
<line x1="86.80" y1="271.60" x2="86.80" y2="274.90" stroke="#1c1c1c" stroke-width="1.2" />
<line x1="96.90" y1="271.60" x2="96.90" y2="274.90" stroke="#1c1c1c" stroke-width="1.2" />
<line x1="107.00" y1="271.60" x2="107.00" y2="274.90" stroke="#1c1c1c" stroke-width="1.2" />
<line x1="116.50" y1="271.60" x2="116.50" y2="274.90" stroke="#1c1c1c" stroke-width="1.2" />
<line x1="125.60" y1="271.60" x2="125.60" y2="274.90" stroke="#1c1c1c" stroke-width="1.2" />
<text x="38.50" y="284.40" font-size="7.1" text-anchor="middle" font-weight="normal" fill="#1c1c1c" >0</text>
<text x="47.20" y="284.40" font-size="7.1" text-anchor="middle" font-weight="normal" fill="#1c1c1c" >1</text>
<text x="56.40" y="284.40" font-size="7.1" text-anchor="middle" font-weight="normal" fill="#1c1c1c" >3</text>
<text x="66.00" y="284.40" font-size="7.1" text-anchor="middle" font-weight="normal" fill="#1c1c1c" >6</text>
<text x="75.60" y="284.40" font-size="7.1" text-anchor="middle" font-weight="normal" fill="#1c1c1c" >12</text>
<text x="85.70" y="284.40" font-size="7.1" text-anchor="middle" font-weight="normal" fill="#1c1c1c" >24</text>
<text x="97.30" y="284.40" font-size="7.1" text-anchor="middle" font-weight="normal" fill="#1c1c1c" >2</text>
<text x="107.80" y="284.40" font-size="7.1" text-anchor="middle" font-weight="normal" fill="#1c1c1c" >3</text>
<text x="116.90" y="284.40" font-size="7.1" text-anchor="middle" font-weight="normal" fill="#1c1c1c" >5</text>
<text x="125.40" y="284.40" font-size="7.1" text-anchor="middle" font-weight="normal" fill="#1c1c1c" >7</text>
<line x1="39.10" y1="287.00" x2="89.40" y2="287.00" stroke="#1c1c1c" stroke-width="1.4" />
<line x1="95.30" y1="287.00" x2="126.40" y2="287.00" stroke="#1c1c1c" stroke-width="1.4" />
<text x="64.60" y="295.00" font-size="7.6" text-anchor="middle" font-weight="normal" fill="#1c1c1c" >hour</text>
<text x="109.00" y="294.60" font-size="7.6" text-anchor="middle" font-weight="normal" fill="#1c1c1c" >day</text>
<line x1="30.11" y1="233.80" x2="125.20" y2="233.80" stroke="#333" stroke-width="1.35" stroke-dasharray="2.49 6.71" stroke-linecap="round"/>
<polyline points="38.20,194.50 47.20,195.80 56.80,195.70 66.60,195.50 76.60,196.70 87.10,199.00 97.10,198.50 107.60,201.30 117.00,203.80 126.00,214.10" fill="none" stroke="#1c1c1c" stroke-width="1.3" stroke-linejoin="round"/>
<polyline points="38.20,194.50 47.20,195.60 56.80,195.50 66.60,195.30 76.60,195.80 87.10,195.00 97.10,194.10 107.60,194.40 117.00,193.30 126.00,198.20" fill="none" stroke="#1c1c1c" stroke-width="1.3" stroke-linejoin="round"/>
<rect x="45.05" y="193.65" width="4.3" height="4.3" rx="0.4" fill="#f4f4f4" stroke="#1c1c1c" stroke-width="1.0"/>
<rect x="54.65" y="193.55" width="4.3" height="4.3" rx="0.4" fill="#f4f4f4" stroke="#1c1c1c" stroke-width="1.0"/>
<rect x="64.45" y="193.35" width="4.3" height="4.3" rx="0.4" fill="#f4f4f4" stroke="#1c1c1c" stroke-width="1.0"/>
<rect x="74.45" y="194.55" width="4.3" height="4.3" rx="0.4" fill="#f4f4f4" stroke="#1c1c1c" stroke-width="1.0"/>
<rect x="84.95" y="196.85" width="4.3" height="4.3" rx="0.4" fill="#f4f4f4" stroke="#1c1c1c" stroke-width="1.0"/>
<rect x="94.95" y="196.35" width="4.3" height="4.3" rx="0.4" fill="#f4f4f4" stroke="#1c1c1c" stroke-width="1.0"/>
<rect x="105.45" y="199.15" width="4.3" height="4.3" rx="0.4" fill="#f4f4f4" stroke="#1c1c1c" stroke-width="1.0"/>
<rect x="114.85" y="201.65" width="4.3" height="4.3" rx="0.4" fill="#f4f4f4" stroke="#1c1c1c" stroke-width="1.0"/>
<rect x="123.85" y="211.95" width="4.3" height="4.3" rx="0.4" fill="#f4f4f4" stroke="#1c1c1c" stroke-width="1.0"/>
<circle cx="38.20" cy="194.50" r="2.25" fill="#fff" stroke="#1c1c1c" stroke-width="1.0"/>
<circle cx="47.20" cy="195.60" r="2.25" fill="#fff" stroke="#1c1c1c" stroke-width="1.0"/>
<circle cx="56.80" cy="195.50" r="2.25" fill="#fff" stroke="#1c1c1c" stroke-width="1.0"/>
<circle cx="66.60" cy="195.30" r="2.25" fill="#fff" stroke="#1c1c1c" stroke-width="1.0"/>
<circle cx="76.60" cy="195.80" r="2.25" fill="#fff" stroke="#1c1c1c" stroke-width="1.0"/>
<circle cx="87.10" cy="195.00" r="2.25" fill="#fff" stroke="#1c1c1c" stroke-width="1.0"/>
<circle cx="97.10" cy="194.10" r="2.25" fill="#fff" stroke="#1c1c1c" stroke-width="1.0"/>
<circle cx="107.60" cy="194.40" r="2.25" fill="#fff" stroke="#1c1c1c" stroke-width="1.0"/>
<circle cx="117.00" cy="193.30" r="2.25" fill="#fff" stroke="#1c1c1c" stroke-width="1.0"/>
<circle cx="126.00" cy="198.20" r="2.25" fill="#fff" stroke="#1c1c1c" stroke-width="1.0"/>
<rect x="36.05" y="192.35" width="4.3" height="4.3" rx="0.4" fill="#f4f4f4" stroke="#1c1c1c" stroke-width="1.0"/>
<text x="83.80" y="180.20" font-size="7.6" text-anchor="middle" font-weight="normal" fill="#1c1c1c" >0.1 &#956;g</text>
<line x1="160.60" y1="178.30" x2="160.60" y2="272.00" stroke="#1c1c1c" stroke-width="1.2" />
<line x1="158.40" y1="178.80" x2="160.60" y2="178.80" stroke="#1c1c1c" stroke-width="1.2" />
<text x="153.70" y="181.80" font-size="7.1" text-anchor="end" font-weight="normal" fill="#1c1c1c" >100</text>
<line x1="158.40" y1="197.12" x2="160.60" y2="197.12" stroke="#1c1c1c" stroke-width="1.2" />
<text x="153.70" y="200.12" font-size="7.1" text-anchor="end" font-weight="normal" fill="#1c1c1c" >80</text>
<line x1="158.40" y1="215.44" x2="160.60" y2="215.44" stroke="#1c1c1c" stroke-width="1.2" />
<text x="153.70" y="218.44" font-size="7.1" text-anchor="end" font-weight="normal" fill="#1c1c1c" >60</text>
<line x1="158.40" y1="233.76" x2="160.60" y2="233.76" stroke="#1c1c1c" stroke-width="1.2" />
<text x="153.70" y="236.76" font-size="7.1" text-anchor="end" font-weight="normal" fill="#1c1c1c" >40</text>
<line x1="158.40" y1="252.08" x2="160.60" y2="252.08" stroke="#1c1c1c" stroke-width="1.2" />
<text x="153.70" y="255.08" font-size="7.1" text-anchor="end" font-weight="normal" fill="#1c1c1c" >20</text>
<line x1="158.40" y1="270.40" x2="160.60" y2="270.40" stroke="#1c1c1c" stroke-width="1.2" />
<text x="153.70" y="273.40" font-size="7.1" text-anchor="end" font-weight="normal" fill="#1c1c1c" >0</text>
<line x1="158.60" y1="270.60" x2="261.00" y2="270.60" stroke="#1c1c1c" stroke-width="1.2" />
<line x1="168.40" y1="270.60" x2="168.40" y2="273.90" stroke="#1c1c1c" stroke-width="1.2" />
<line x1="177.30" y1="270.60" x2="177.30" y2="273.90" stroke="#1c1c1c" stroke-width="1.2" />
<line x1="186.70" y1="270.60" x2="186.70" y2="273.90" stroke="#1c1c1c" stroke-width="1.2" />
<line x1="196.20" y1="270.60" x2="196.20" y2="273.90" stroke="#1c1c1c" stroke-width="1.2" />
<line x1="206.20" y1="270.60" x2="206.20" y2="273.90" stroke="#1c1c1c" stroke-width="1.2" />
<line x1="216.50" y1="270.60" x2="216.50" y2="273.90" stroke="#1c1c1c" stroke-width="1.2" />
<line x1="226.80" y1="270.60" x2="226.80" y2="273.90" stroke="#1c1c1c" stroke-width="1.2" />
<line x1="237.10" y1="270.60" x2="237.10" y2="273.90" stroke="#1c1c1c" stroke-width="1.2" />
<line x1="246.60" y1="270.60" x2="246.60" y2="273.90" stroke="#1c1c1c" stroke-width="1.2" />
<line x1="255.30" y1="270.60" x2="255.30" y2="273.90" stroke="#1c1c1c" stroke-width="1.2" />
<text x="168.10" y="283.60" font-size="7.1" text-anchor="middle" font-weight="normal" fill="#1c1c1c" >0</text>
<text x="176.80" y="283.60" font-size="7.1" text-anchor="middle" font-weight="normal" fill="#1c1c1c" >1</text>
<text x="186.30" y="283.60" font-size="7.1" text-anchor="middle" font-weight="normal" fill="#1c1c1c" >3</text>
<text x="195.40" y="283.60" font-size="7.1" text-anchor="middle" font-weight="normal" fill="#1c1c1c" >6</text>
<text x="205.90" y="283.60" font-size="7.1" text-anchor="middle" font-weight="normal" fill="#1c1c1c" >12</text>
<text x="215.60" y="283.60" font-size="7.1" text-anchor="middle" font-weight="normal" fill="#1c1c1c" >24</text>
<text x="226.70" y="283.60" font-size="7.1" text-anchor="middle" font-weight="normal" fill="#1c1c1c" >2</text>
<text x="237.80" y="283.60" font-size="7.1" text-anchor="middle" font-weight="normal" fill="#1c1c1c" >3</text>
<text x="246.90" y="283.60" font-size="7.1" text-anchor="middle" font-weight="normal" fill="#1c1c1c" >5</text>
<text x="255.00" y="283.60" font-size="7.1" text-anchor="middle" font-weight="normal" fill="#1c1c1c" >7</text>
<line x1="168.80" y1="285.60" x2="218.90" y2="285.60" stroke="#1c1c1c" stroke-width="1.4" />
<line x1="224.80" y1="285.60" x2="256.10" y2="285.60" stroke="#1c1c1c" stroke-width="1.4" />
<text x="195.00" y="294.00" font-size="7.6" text-anchor="middle" font-weight="normal" fill="#1c1c1c" >hour</text>
<text x="239.00" y="293.60" font-size="7.6" text-anchor="middle" font-weight="normal" fill="#1c1c1c" >day</text>
<line x1="160.91" y1="232.80" x2="255.20" y2="232.80" stroke="#333" stroke-width="1.35" stroke-dasharray="2.49 6.61" stroke-linecap="round"/>
<polyline points="168.30,193.50 177.10,194.40 186.80,197.50 196.10,199.40 206.20,202.10 216.60,204.60 226.80,206.90 237.40,207.10 246.70,212.60 255.30,218.30" fill="none" stroke="#1c1c1c" stroke-width="1.3" stroke-linejoin="round"/>
<polyline points="168.30,193.50 177.10,194.40 186.80,195.20 196.10,195.00 206.20,194.70 216.60,195.00 226.80,194.30 237.40,197.00 246.70,199.00 255.30,207.50" fill="none" stroke="#1c1c1c" stroke-width="1.3" stroke-linejoin="round"/>
<rect x="174.95" y="192.25" width="4.3" height="4.3" rx="0.4" fill="#a0a0a0" stroke="#1c1c1c" stroke-width="1.0"/>
<rect x="184.65" y="195.35" width="4.3" height="4.3" rx="0.4" fill="#a0a0a0" stroke="#1c1c1c" stroke-width="1.0"/>
<rect x="193.95" y="197.25" width="4.3" height="4.3" rx="0.4" fill="#a0a0a0" stroke="#1c1c1c" stroke-width="1.0"/>
<rect x="204.05" y="199.95" width="4.3" height="4.3" rx="0.4" fill="#a0a0a0" stroke="#1c1c1c" stroke-width="1.0"/>
<rect x="214.45" y="202.45" width="4.3" height="4.3" rx="0.4" fill="#a0a0a0" stroke="#1c1c1c" stroke-width="1.0"/>
<rect x="224.65" y="204.75" width="4.3" height="4.3" rx="0.4" fill="#a0a0a0" stroke="#1c1c1c" stroke-width="1.0"/>
<rect x="235.25" y="204.95" width="4.3" height="4.3" rx="0.4" fill="#a0a0a0" stroke="#1c1c1c" stroke-width="1.0"/>
<rect x="244.55" y="210.45" width="4.3" height="4.3" rx="0.4" fill="#a0a0a0" stroke="#1c1c1c" stroke-width="1.0"/>
<rect x="253.15" y="216.15" width="4.3" height="4.3" rx="0.4" fill="#a0a0a0" stroke="#1c1c1c" stroke-width="1.0"/>
<circle cx="168.30" cy="193.50" r="2.25" fill="#a0a0a0" stroke="#1c1c1c" stroke-width="1.0"/>
<circle cx="177.10" cy="194.40" r="2.25" fill="#a0a0a0" stroke="#1c1c1c" stroke-width="1.0"/>
<circle cx="186.80" cy="195.20" r="2.25" fill="#a0a0a0" stroke="#1c1c1c" stroke-width="1.0"/>
<circle cx="196.10" cy="195.00" r="2.25" fill="#a0a0a0" stroke="#1c1c1c" stroke-width="1.0"/>
<circle cx="206.20" cy="194.70" r="2.25" fill="#a0a0a0" stroke="#1c1c1c" stroke-width="1.0"/>
<circle cx="216.60" cy="195.00" r="2.25" fill="#a0a0a0" stroke="#1c1c1c" stroke-width="1.0"/>
<circle cx="226.80" cy="194.30" r="2.25" fill="#a0a0a0" stroke="#1c1c1c" stroke-width="1.0"/>
<circle cx="237.40" cy="197.00" r="2.25" fill="#a0a0a0" stroke="#1c1c1c" stroke-width="1.0"/>
<circle cx="246.70" cy="199.00" r="2.25" fill="#a0a0a0" stroke="#1c1c1c" stroke-width="1.0"/>
<circle cx="255.30" cy="207.50" r="2.25" fill="#a0a0a0" stroke="#1c1c1c" stroke-width="1.0"/>
<rect x="166.15" y="191.35" width="4.3" height="4.3" rx="0.4" fill="#a0a0a0" stroke="#1c1c1c" stroke-width="1.0"/>
<text x="214.00" y="179.90" font-size="7.6" text-anchor="middle" font-weight="normal" fill="#1c1c1c" >0.3 &#956;g</text>
<line x1="292.40" y1="177.70" x2="292.40" y2="272.00" stroke="#1c1c1c" stroke-width="1.2" />
<line x1="290.20" y1="178.20" x2="292.40" y2="178.20" stroke="#1c1c1c" stroke-width="1.2" />
<text x="287.50" y="181.20" font-size="7.1" text-anchor="end" font-weight="normal" fill="#1c1c1c" >100</text>
<line x1="290.20" y1="196.64" x2="292.40" y2="196.64" stroke="#1c1c1c" stroke-width="1.2" />
<text x="287.50" y="199.64" font-size="7.1" text-anchor="end" font-weight="normal" fill="#1c1c1c" >80</text>
<line x1="290.20" y1="215.08" x2="292.40" y2="215.08" stroke="#1c1c1c" stroke-width="1.2" />
<text x="287.50" y="218.08" font-size="7.1" text-anchor="end" font-weight="normal" fill="#1c1c1c" >60</text>
<line x1="290.20" y1="233.52" x2="292.40" y2="233.52" stroke="#1c1c1c" stroke-width="1.2" />
<text x="287.50" y="236.52" font-size="7.1" text-anchor="end" font-weight="normal" fill="#1c1c1c" >40</text>
<line x1="290.20" y1="251.96" x2="292.40" y2="251.96" stroke="#1c1c1c" stroke-width="1.2" />
<text x="287.50" y="254.96" font-size="7.1" text-anchor="end" font-weight="normal" fill="#1c1c1c" >20</text>
<line x1="290.20" y1="270.40" x2="292.40" y2="270.40" stroke="#1c1c1c" stroke-width="1.2" />
<text x="287.50" y="273.40" font-size="7.1" text-anchor="end" font-weight="normal" fill="#1c1c1c" >0</text>
<line x1="290.40" y1="270.50" x2="391.70" y2="270.50" stroke="#1c1c1c" stroke-width="1.2" />
<line x1="300.30" y1="270.50" x2="300.30" y2="273.80" stroke="#1c1c1c" stroke-width="1.2" />
<line x1="309.20" y1="270.50" x2="309.20" y2="273.80" stroke="#1c1c1c" stroke-width="1.2" />
<line x1="319.10" y1="270.50" x2="319.10" y2="273.80" stroke="#1c1c1c" stroke-width="1.2" />
<line x1="328.90" y1="270.50" x2="328.90" y2="273.80" stroke="#1c1c1c" stroke-width="1.2" />
<line x1="339.30" y1="270.50" x2="339.30" y2="273.80" stroke="#1c1c1c" stroke-width="1.2" />
<line x1="349.30" y1="270.50" x2="349.30" y2="273.80" stroke="#1c1c1c" stroke-width="1.2" />
<line x1="359.30" y1="270.50" x2="359.30" y2="273.80" stroke="#1c1c1c" stroke-width="1.2" />
<line x1="369.90" y1="270.50" x2="369.90" y2="273.80" stroke="#1c1c1c" stroke-width="1.2" />
<line x1="379.60" y1="270.50" x2="379.60" y2="273.80" stroke="#1c1c1c" stroke-width="1.2" />
<line x1="387.60" y1="270.50" x2="387.60" y2="273.80" stroke="#1c1c1c" stroke-width="1.2" />
<text x="300.50" y="283.30" font-size="7.1" text-anchor="middle" font-weight="normal" fill="#1c1c1c" >0</text>
<text x="309.60" y="283.30" font-size="7.1" text-anchor="middle" font-weight="normal" fill="#1c1c1c" >1</text>
<text x="318.90" y="283.30" font-size="7.1" text-anchor="middle" font-weight="normal" fill="#1c1c1c" >3</text>
<text x="328.40" y="283.30" font-size="7.1" text-anchor="middle" font-weight="normal" fill="#1c1c1c" >6</text>
<text x="338.50" y="283.30" font-size="7.1" text-anchor="middle" font-weight="normal" fill="#1c1c1c" >12</text>
<text x="348.20" y="283.30" font-size="7.1" text-anchor="middle" font-weight="normal" fill="#1c1c1c" >24</text>
<text x="359.70" y="283.30" font-size="7.1" text-anchor="middle" font-weight="normal" fill="#1c1c1c" >2</text>
<text x="370.20" y="283.30" font-size="7.1" text-anchor="middle" font-weight="normal" fill="#1c1c1c" >3</text>
<text x="379.50" y="283.30" font-size="7.1" text-anchor="middle" font-weight="normal" fill="#1c1c1c" >5</text>
<text x="387.60" y="283.30" font-size="7.1" text-anchor="middle" font-weight="normal" fill="#1c1c1c" >7</text>
<line x1="301.10" y1="285.30" x2="351.50" y2="285.30" stroke="#1c1c1c" stroke-width="1.4" />
<line x1="357.80" y1="285.30" x2="388.50" y2="285.30" stroke="#1c1c1c" stroke-width="1.4" />
<text x="327.20" y="294.00" font-size="7.6" text-anchor="middle" font-weight="normal" fill="#1c1c1c" >hour</text>
<text x="371.00" y="293.60" font-size="7.6" text-anchor="middle" font-weight="normal" fill="#1c1c1c" >day</text>
<line x1="292.91" y1="232.80" x2="387.20" y2="232.80" stroke="#333" stroke-width="1.35" stroke-dasharray="2.49 6.66" stroke-linecap="round"/>
<polyline points="300.40,193.60 309.20,193.90 319.30,197.40 329.00,199.40 339.20,203.50 349.30,225.50 359.30,250.30 369.80,256.20 379.50,258.30 388.00,261.70" fill="none" stroke="#1c1c1c" stroke-width="1.3" stroke-linejoin="round"/>
<polyline points="300.40,193.60 309.20,193.90 319.30,193.30 329.00,194.20 339.20,195.70 349.30,205.30 359.30,241.60 369.80,251.50 379.50,255.90 388.00,256.90" fill="none" stroke="#1c1c1c" stroke-width="1.3" stroke-linejoin="round"/>
<rect x="307.05" y="191.75" width="4.3" height="4.3" rx="0.4" fill="#5a5a5a" stroke="#1c1c1c" stroke-width="1.0"/>
<rect x="317.15" y="195.25" width="4.3" height="4.3" rx="0.4" fill="#5a5a5a" stroke="#1c1c1c" stroke-width="1.0"/>
<rect x="326.85" y="197.25" width="4.3" height="4.3" rx="0.4" fill="#5a5a5a" stroke="#1c1c1c" stroke-width="1.0"/>
<rect x="337.05" y="201.35" width="4.3" height="4.3" rx="0.4" fill="#5a5a5a" stroke="#1c1c1c" stroke-width="1.0"/>
<rect x="347.15" y="223.35" width="4.3" height="4.3" rx="0.4" fill="#5a5a5a" stroke="#1c1c1c" stroke-width="1.0"/>
<rect x="357.15" y="248.15" width="4.3" height="4.3" rx="0.4" fill="#5a5a5a" stroke="#1c1c1c" stroke-width="1.0"/>
<rect x="367.65" y="254.05" width="4.3" height="4.3" rx="0.4" fill="#5a5a5a" stroke="#1c1c1c" stroke-width="1.0"/>
<rect x="377.35" y="256.15" width="4.3" height="4.3" rx="0.4" fill="#5a5a5a" stroke="#1c1c1c" stroke-width="1.0"/>
<rect x="385.85" y="259.55" width="4.3" height="4.3" rx="0.4" fill="#5a5a5a" stroke="#1c1c1c" stroke-width="1.0"/>
<circle cx="300.40" cy="193.60" r="2.25" fill="#5a5a5a" stroke="#1c1c1c" stroke-width="1.0"/>
<circle cx="309.20" cy="193.90" r="2.25" fill="#5a5a5a" stroke="#1c1c1c" stroke-width="1.0"/>
<circle cx="319.30" cy="193.30" r="2.25" fill="#5a5a5a" stroke="#1c1c1c" stroke-width="1.0"/>
<circle cx="329.00" cy="194.20" r="2.25" fill="#5a5a5a" stroke="#1c1c1c" stroke-width="1.0"/>
<circle cx="339.20" cy="195.70" r="2.25" fill="#5a5a5a" stroke="#1c1c1c" stroke-width="1.0"/>
<circle cx="349.30" cy="205.30" r="2.25" fill="#5a5a5a" stroke="#1c1c1c" stroke-width="1.0"/>
<circle cx="359.30" cy="241.60" r="2.25" fill="#5a5a5a" stroke="#1c1c1c" stroke-width="1.0"/>
<circle cx="369.80" cy="251.50" r="2.25" fill="#5a5a5a" stroke="#1c1c1c" stroke-width="1.0"/>
<circle cx="379.50" cy="255.90" r="2.25" fill="#5a5a5a" stroke="#1c1c1c" stroke-width="1.0"/>
<circle cx="388.00" cy="256.90" r="2.25" fill="#5a5a5a" stroke="#1c1c1c" stroke-width="1.0"/>
<rect x="298.25" y="191.45" width="4.3" height="4.3" rx="0.4" fill="#5a5a5a" stroke="#1c1c1c" stroke-width="1.0"/>
<text x="350.60" y="179.80" font-size="7.6" text-anchor="middle" font-weight="normal" fill="#1c1c1c" >1 &#956;g</text>
<line x1="420.40" y1="179.80" x2="420.40" y2="273.20" stroke="#1c1c1c" stroke-width="1.2" />
<line x1="418.20" y1="180.30" x2="420.40" y2="180.30" stroke="#1c1c1c" stroke-width="1.2" />
<text x="414.70" y="183.30" font-size="7.1" text-anchor="end" font-weight="normal" fill="#1c1c1c" >100</text>
<line x1="418.20" y1="198.56" x2="420.40" y2="198.56" stroke="#1c1c1c" stroke-width="1.2" />
<text x="414.70" y="201.56" font-size="7.1" text-anchor="end" font-weight="normal" fill="#1c1c1c" >80</text>
<line x1="418.20" y1="216.82" x2="420.40" y2="216.82" stroke="#1c1c1c" stroke-width="1.2" />
<text x="414.70" y="219.82" font-size="7.1" text-anchor="end" font-weight="normal" fill="#1c1c1c" >60</text>
<line x1="418.20" y1="235.08" x2="420.40" y2="235.08" stroke="#1c1c1c" stroke-width="1.2" />
<text x="414.70" y="238.08" font-size="7.1" text-anchor="end" font-weight="normal" fill="#1c1c1c" >40</text>
<line x1="418.20" y1="253.34" x2="420.40" y2="253.34" stroke="#1c1c1c" stroke-width="1.2" />
<text x="414.70" y="256.34" font-size="7.1" text-anchor="end" font-weight="normal" fill="#1c1c1c" >20</text>
<line x1="418.20" y1="271.60" x2="420.40" y2="271.60" stroke="#1c1c1c" stroke-width="1.2" />
<text x="414.70" y="274.60" font-size="7.1" text-anchor="end" font-weight="normal" fill="#1c1c1c" >0</text>
<line x1="418.40" y1="272.00" x2="519.50" y2="272.00" stroke="#1c1c1c" stroke-width="1.2" />
<line x1="428.70" y1="272.00" x2="428.70" y2="275.30" stroke="#1c1c1c" stroke-width="1.2" />
<line x1="437.50" y1="272.00" x2="437.50" y2="275.30" stroke="#1c1c1c" stroke-width="1.2" />
<line x1="446.90" y1="272.00" x2="446.90" y2="275.30" stroke="#1c1c1c" stroke-width="1.2" />
<line x1="457.00" y1="272.00" x2="457.00" y2="275.30" stroke="#1c1c1c" stroke-width="1.2" />
<line x1="467.10" y1="272.00" x2="467.10" y2="275.30" stroke="#1c1c1c" stroke-width="1.2" />
<line x1="477.20" y1="272.00" x2="477.20" y2="275.30" stroke="#1c1c1c" stroke-width="1.2" />
<line x1="487.30" y1="272.00" x2="487.30" y2="275.30" stroke="#1c1c1c" stroke-width="1.2" />
<line x1="497.70" y1="272.00" x2="497.70" y2="275.30" stroke="#1c1c1c" stroke-width="1.2" />
<line x1="507.50" y1="272.00" x2="507.50" y2="275.30" stroke="#1c1c1c" stroke-width="1.2" />
<line x1="516.00" y1="272.00" x2="516.00" y2="275.30" stroke="#1c1c1c" stroke-width="1.2" />
<text x="428.70" y="284.50" font-size="7.1" text-anchor="middle" font-weight="normal" fill="#1c1c1c" >0</text>
<text x="437.20" y="284.50" font-size="7.1" text-anchor="middle" font-weight="normal" fill="#1c1c1c" >1</text>
<text x="446.30" y="284.50" font-size="7.1" text-anchor="middle" font-weight="normal" fill="#1c1c1c" >3</text>
<text x="456.00" y="284.50" font-size="7.1" text-anchor="middle" font-weight="normal" fill="#1c1c1c" >6</text>
<text x="465.90" y="284.50" font-size="7.1" text-anchor="middle" font-weight="normal" fill="#1c1c1c" >12</text>
<text x="476.00" y="284.50" font-size="7.1" text-anchor="middle" font-weight="normal" fill="#1c1c1c" >24</text>
<text x="487.10" y="284.50" font-size="7.1" text-anchor="middle" font-weight="normal" fill="#1c1c1c" >2</text>
<text x="497.80" y="284.50" font-size="7.1" text-anchor="middle" font-weight="normal" fill="#1c1c1c" >3</text>
<text x="506.90" y="284.50" font-size="7.1" text-anchor="middle" font-weight="normal" fill="#1c1c1c" >5</text>
<text x="515.00" y="284.50" font-size="7.1" text-anchor="middle" font-weight="normal" fill="#1c1c1c" >7</text>
<line x1="429.10" y1="286.80" x2="479.20" y2="286.80" stroke="#1c1c1c" stroke-width="1.4" />
<line x1="485.70" y1="286.80" x2="517.00" y2="286.80" stroke="#1c1c1c" stroke-width="1.4" />
<text x="455.60" y="295.60" font-size="7.6" text-anchor="middle" font-weight="normal" fill="#1c1c1c" >hour</text>
<text x="499.00" y="295.20" font-size="7.6" text-anchor="middle" font-weight="normal" fill="#1c1c1c" >day</text>
<line x1="420.51" y1="234.30" x2="514.60" y2="234.30" stroke="#333" stroke-width="1.35" stroke-dasharray="2.49 6.64" stroke-linecap="round"/>
<polyline points="428.40,195.30 437.50,196.50 447.20,213.40 457.30,222.90 467.10,235.20 477.30,257.80 487.50,260.30 497.70,262.00 507.60,263.00 516.40,265.60" fill="none" stroke="#1c1c1c" stroke-width="1.3" stroke-linejoin="round"/>
<polyline points="428.40,195.30 437.50,196.50 447.20,207.10 457.30,218.10 467.10,223.00 477.30,245.60 487.50,257.20 497.70,257.80 507.60,258.60 516.40,260.30" fill="none" stroke="#1c1c1c" stroke-width="1.3" stroke-linejoin="round"/>
<rect x="435.35" y="194.35" width="4.3" height="4.3" rx="0.4" fill="#1a1a1a" stroke="#1c1c1c" stroke-width="1.0"/>
<rect x="445.05" y="211.25" width="4.3" height="4.3" rx="0.4" fill="#1a1a1a" stroke="#1c1c1c" stroke-width="1.0"/>
<rect x="455.15" y="220.75" width="4.3" height="4.3" rx="0.4" fill="#1a1a1a" stroke="#1c1c1c" stroke-width="1.0"/>
<rect x="464.95" y="233.05" width="4.3" height="4.3" rx="0.4" fill="#1a1a1a" stroke="#1c1c1c" stroke-width="1.0"/>
<rect x="475.15" y="255.65" width="4.3" height="4.3" rx="0.4" fill="#1a1a1a" stroke="#1c1c1c" stroke-width="1.0"/>
<rect x="485.35" y="258.15" width="4.3" height="4.3" rx="0.4" fill="#1a1a1a" stroke="#1c1c1c" stroke-width="1.0"/>
<rect x="495.55" y="259.85" width="4.3" height="4.3" rx="0.4" fill="#1a1a1a" stroke="#1c1c1c" stroke-width="1.0"/>
<rect x="505.45" y="260.85" width="4.3" height="4.3" rx="0.4" fill="#1a1a1a" stroke="#1c1c1c" stroke-width="1.0"/>
<rect x="514.25" y="263.45" width="4.3" height="4.3" rx="0.4" fill="#1a1a1a" stroke="#1c1c1c" stroke-width="1.0"/>
<circle cx="428.40" cy="195.30" r="2.25" fill="#1a1a1a" stroke="#1c1c1c" stroke-width="1.0"/>
<circle cx="437.50" cy="196.50" r="2.25" fill="#1a1a1a" stroke="#1c1c1c" stroke-width="1.0"/>
<circle cx="447.20" cy="207.10" r="2.25" fill="#1a1a1a" stroke="#1c1c1c" stroke-width="1.0"/>
<circle cx="457.30" cy="218.10" r="2.25" fill="#1a1a1a" stroke="#1c1c1c" stroke-width="1.0"/>
<circle cx="467.10" cy="223.00" r="2.25" fill="#1a1a1a" stroke="#1c1c1c" stroke-width="1.0"/>
<circle cx="477.30" cy="245.60" r="2.25" fill="#1a1a1a" stroke="#1c1c1c" stroke-width="1.0"/>
<circle cx="487.50" cy="257.20" r="2.25" fill="#1a1a1a" stroke="#1c1c1c" stroke-width="1.0"/>
<circle cx="497.70" cy="257.80" r="2.25" fill="#1a1a1a" stroke="#1c1c1c" stroke-width="1.0"/>
<circle cx="507.60" cy="258.60" r="2.25" fill="#1a1a1a" stroke="#1c1c1c" stroke-width="1.0"/>
<circle cx="516.40" cy="260.30" r="2.25" fill="#1a1a1a" stroke="#1c1c1c" stroke-width="1.0"/>
<rect x="426.25" y="193.15" width="4.3" height="4.3" rx="0.4" fill="#1a1a1a" stroke="#1c1c1c" stroke-width="1.0"/>
<text x="477.60" y="180.10" font-size="7.6" text-anchor="middle" font-weight="normal" fill="#1c1c1c" >3 &#956;g</text>
<text x="0" y="0" font-size="8.1" text-anchor="middle" fill="#1c1c1c" transform="translate(7.00,226.20) rotate(-90)">% Viable CLL cells</text>
<circle cx="479.20" cy="194.50" r="2.1" fill="#fff" stroke="#1c1c1c" stroke-width="1.2"/>
<text x="484.80" y="196.70" font-size="7.6" text-anchor="start" font-weight="normal" fill="#1c1c1c" >CpG 2006</text>
<rect x="477.20" y="199.60" width="4.0" height="4.0" rx="0.3" fill="#fff" stroke="#1c1c1c" stroke-width="1.2"/>
<text x="484.80" y="204.10" font-size="7.6" text-anchor="start" font-weight="normal" fill="#1c1c1c" >CpG 685</text>
<text x="240.50" y="308.50" font-size="7.95" text-anchor="start" font-weight="normal" fill="#1c1c1c" >CpG ODN treatment time</text>
</svg>
</body></html>
